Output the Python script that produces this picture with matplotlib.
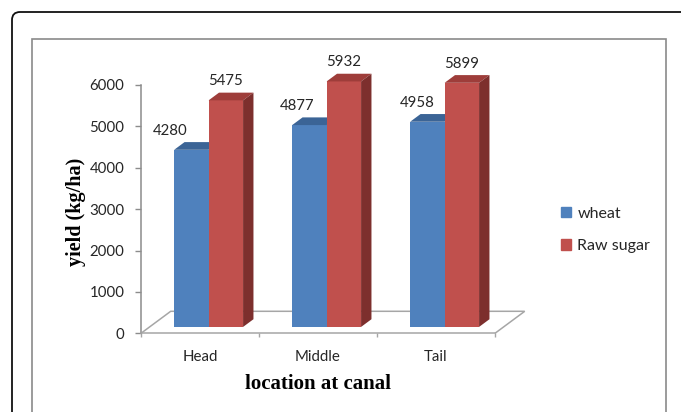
import matplotlib
matplotlib.use("Agg")
import matplotlib.pyplot as plt
from matplotlib.patches import Polygon, Patch, FancyBboxPatch, Rectangle
from matplotlib.transforms import IdentityTransform

# ---- data -------------------------------------------------------------
categories = ["Head", "Middle", "Tail"]
wheat = [4280, 4877, 4958]
raw_sugar = [5475, 5932, 5899]
series_names = ["wheat", "Raw sugar"]
y_ticks = [0, 1000, 2000, 3000, 4000, 5000, 6000]

# ---- style ------------------------------------------------------------
BLUE, BLUE_TOP, BLUE_SIDE = "#4F81BD", "#3B6496", "#2F507A"
RED, RED_TOP, RED_SIDE = "#C0504D", "#9E3D3A", "#7D2F2D"
GRID = "#8C8C8C"
FLOOR = "#A6A6A6"
TXT = "#262626"
SANS = ["Lato", "DejaVu Sans"]
SERIF = ["Liberation Serif", "DejaVu Serif"]

W, H = 681, 412
fig = plt.figure(figsize=(W / 100, H / 100), dpi=100)

# outer rounded frame and inner chart-area frame (pixel coordinates)
fig.patches.append(FancyBboxPatch((12, -40), 720, H - 12 + 40,
                                  boxstyle="round,pad=0,rounding_size=8",
                                  transform=IdentityTransform(), fill=False,
                                  ec="#111111", lw=1.3))
fig.patches.append(Rectangle((32, -40), 666 - 32, H - 39 + 40,
                             transform=IdentityTransform(), fill=False,
                             ec="#8A8A8A", lw=1.2))

# plot area (front plane of the 3-D box)
L, R, T, B = 141, 495, 85, 333.3
ax = fig.add_axes([L / W, (H - B) / H, (R - L) / W, (B - T) / H])
n = len(categories)
ax.set_xlim(0, n)
ax.set_ylim(0, 6000)
ax.patch.set_visible(False)
for s in ("top", "right"):
    ax.spines[s].set_visible(False)
ax.spines["left"].set_color(GRID)
ax.spines["bottom"].set_color(FLOOR)
ax.spines["left"].set_linewidth(1.1)
ax.spines["bottom"].set_linewidth(1.1)

ax.set_yticks(y_ticks)
ax.set_yticklabels([str(v) for v in y_ticks], fontfamily=SANS)
ax.tick_params(axis="y", length=4.5, width=1, color=GRID, pad=7.5,
               labelsize=10.8, labelcolor=TXT)
ax.set_xticks(range(n + 1))
ax.set_xticklabels([])
ax.tick_params(axis="x", which="major", length=3, width=1, color=FLOOR)
ax.set_xticks([i + 0.5 for i in range(n)], minor=True)
ax.set_xticklabels(categories, minor=True, fontfamily=SANS)
ax.tick_params(axis="x", which="minor", length=0, pad=12,
               labelsize=10.8, labelcolor=TXT)

# depth of the floor in data units
depth_x = 29.7 * n / (R - L)
depth_y = 22.0 * 6000 / (B - T)
f0, f1 = 0.29, 0.64          # front / back planes of the bars
bar_w = 0.292

# floor
floor = Polygon([(0, 0), (depth_x, depth_y), (n + depth_x, depth_y), (n, 0)],
                closed=False, fill=False, ec=FLOOR, lw=1.1, clip_on=False,
                zorder=1)
ax.add_patch(floor)

base = f0 * depth_y
dx, dy = (f1 - f0) * depth_x, (f1 - f0) * depth_y


def draw_series(lefts, values, front, top, side, z, with_side):
    bars = ax.bar(lefts, values, width=bar_w, bottom=base, align="edge",
                  color=front, lw=0, zorder=z, clip_on=False)
    for rect in bars:
        x0, x1 = rect.get_x(), rect.get_x() + rect.get_width()
        yt = rect.get_y() + rect.get_height()
        ax.add_patch(Polygon([(x0, yt), (x1, yt), (x1 + dx, yt + dy),
                              (x0 + dx, yt + dy)], color=top, lw=0,
                             zorder=z + 0.1, clip_on=False))
        if with_side:
            ax.add_patch(Polygon([(x1, base), (x1, yt), (x1 + dx, yt + dy),
                                  (x1 + dx, base + dy)], color=side, lw=0,
                                 zorder=z + 0.1, clip_on=False))
    return bars


centers = [i + 0.5 + f0 * depth_x for i in range(n)]
wheat_bars = draw_series([c - bar_w for c in centers], wheat,
                         BLUE, BLUE_TOP, BLUE_SIDE, 2, False)
sugar_bars = draw_series(centers, raw_sugar, RED, RED_TOP, RED_SIDE, 3, True)

# value labels
wheat_label_dx = [-21, -12, -10]
for rect, v, off in zip(wheat_bars, wheat, wheat_label_dx):
    ax.annotate(str(v), (rect.get_x() + rect.get_width() / 2, base + v),
                xytext=(off, 19), textcoords="offset pixels", ha="center",
                va="center", fontsize=10.8, color=TXT, fontfamily=SANS,
                annotation_clip=False, zorder=5)
for rect, v in zip(sugar_bars, raw_sugar):
    ax.annotate(str(v), (rect.get_x() + rect.get_width() / 2, base + v),
                xytext=(0, 19), textcoords="offset pixels", ha="center",
                va="center", fontsize=10.8, color=TXT, fontfamily=SANS,
                annotation_clip=False, zorder=5)

# axis titles
fig.text(76 / W, 1 - 212 / H, "yield (kg/ha)", rotation=90, ha="center",
         va="center", fontsize=14.5, fontweight="bold", fontfamily=SERIF,
         color="black")
fig.text(318 / W, 1 - 384 / H, "location at canal", ha="center",
         va="center", fontsize=15, fontweight="bold", fontfamily=SERIF,
         color="black")

# legend
handles = [Patch(color=BLUE), Patch(color=RED)]
fig.legend(handles, series_names, loc="center left",
           bbox_to_anchor=(561 / W, 1 - 230 / H), frameon=False,
           prop={"family": SANS, "size": 11.5}, handlelength=0.62,
           handleheight=0.62, handletextpad=0.4, labelspacing=1.15,
           borderpad=0, borderaxespad=0, labelcolor=TXT)

fig.savefig("out.png", dpi=100)
